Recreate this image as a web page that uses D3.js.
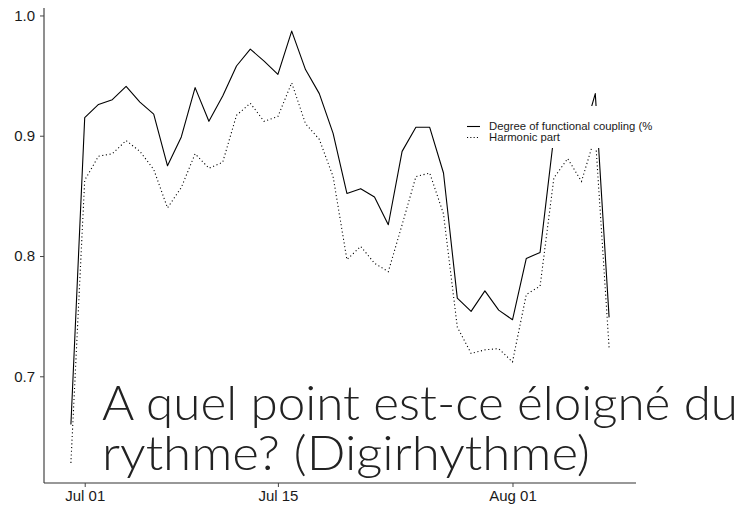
<!DOCTYPE html>
<html>
<head>
<meta charset="utf-8">
<script src="https://cdn.jsdelivr.net/npm/d3@7"></script>
<style>
  body { margin: 0; background: #fff; }
  svg { display: block; }
</style>
</head>
<body>
<script>
// daily values
var dates = [
  "2021-06-30", "2021-07-01", "2021-07-02", "2021-07-03", "2021-07-04",
  "2021-07-05", "2021-07-06", "2021-07-07", "2021-07-08", "2021-07-09",
  "2021-07-10", "2021-07-11", "2021-07-12", "2021-07-13", "2021-07-14",
  "2021-07-15", "2021-07-16", "2021-07-17", "2021-07-18", "2021-07-19",
  "2021-07-20", "2021-07-21", "2021-07-22", "2021-07-23", "2021-07-24",
  "2021-07-25", "2021-07-26", "2021-07-27", "2021-07-28", "2021-07-29",
  "2021-07-30", "2021-07-31", "2021-08-01", "2021-08-02", "2021-08-03",
  "2021-08-04", "2021-08-05", "2021-08-06", "2021-08-07", "2021-08-08"
];

var coupling = [
  0.660, 0.915, 0.926, 0.930, 0.941, 0.928, 0.918, 0.875, 0.899, 0.940,
  0.912, 0.933, 0.958, 0.972, 0.962, 0.951, 0.987, 0.955, 0.935, 0.902,
  0.852, 0.856, 0.849, 0.826, 0.887, 0.907, 0.907, 0.869, 0.765, 0.754,
  0.771, 0.755, 0.747, 0.798, 0.803, 0.900, 0.915, 0.895, 0.935, 0.749
];

var harmonic = [
  0.628, 0.863, 0.883, 0.885, 0.896, 0.887, 0.872, 0.840, 0.857, 0.885,
  0.873, 0.878, 0.917, 0.927, 0.912, 0.916, 0.944, 0.910, 0.897, 0.866,
  0.797, 0.808, 0.794, 0.787, 0.826, 0.866, 0.869, 0.835, 0.741, 0.719,
  0.722, 0.723, 0.712, 0.768, 0.775, 0.865, 0.881, 0.862, 0.900, 0.724
];

var yTicks = [0.7, 0.8, 0.9, 1.0];
var xTicks = ["2021-07-01", "2021-07-15", "2021-08-01"];
var seriesNames = ["Degree of functional coupling (%", "Harmonic part"];
var titleLines = ["A quel point est-ce éloigné du", "rythme? (Digirhythme)"];

var width = 746,
    height = 508;

var parse = d3.timeParse("%Y-%m-%d");
var days = dates.map(parse);

// ggplot-like 5% expansion on x
var ext = d3.extent(days);
var pad = (ext[1] - ext[0]) * 0.05;
var x = d3.scaleTime()
    .domain([new Date(+ext[0] - pad), new Date(+ext[1] + pad)])
    .range([44, 636]);

var y = d3.scaleLinear()
    .domain([0.6113, 1.0062])
    .range([483, 8]);

var svg = d3.select("body").append("svg")
    .attr("width", width)
    .attr("height", height);

// lines
var line = d3.line()
    .x(function(d, i) { return x(days[i]); })
    .y(function(d) { return y(d); });

svg.append("path")
    .datum(coupling)
    .attr("d", line)
    .attr("fill", "none")
    .attr("stroke", "#000")
    .attr("stroke-width", 1.1)
    .attr("stroke-linejoin", "round");

svg.append("path")
    .datum(harmonic)
    .attr("d", line)
    .attr("fill", "none")
    .attr("stroke", "#000")
    .attr("stroke-width", 1.1)
    .attr("stroke-dasharray", "1.1,2.6");

// axes
var yAxis = svg.append("g")
    .attr("transform", "translate(44,0)")
    .call(d3.axisLeft(y)
      .tickValues(yTicks)
      .tickSize(4)
      .tickPadding(5)
      .tickFormat(d3.format(".1f")));

var xAxis = svg.append("g")
    .attr("transform", "translate(0,483)")
    .call(d3.axisBottom(x)
      .tickValues(xTicks.map(parse))
      .tickSize(4)
      .tickPadding(3)
      .tickFormat(d3.timeFormat("%b %d")));

[yAxis, xAxis].forEach(function(g) {
  g.select(".domain").attr("stroke", "#333").attr("stroke-width", 1.1);
  g.selectAll(".tick line").attr("stroke", "#444");
  g.selectAll(".tick text")
    .attr("fill", "#1a1a1a")
    .style("font-family", "'Liberation Sans', Arial, sans-serif")
    .style("font-size", "15px");
});
yAxis.select(".domain").attr("d", "M0," + y.range()[1] + "V" + y.range()[0]);
xAxis.select(".domain").attr("d", "M" + x.range()[0] + ",0H" + x.range()[1]);

// legend, white box over the lines
var legend = svg.append("g").attr("transform", "translate(460,106)");
legend.append("rect")
    .attr("width", 205)
    .attr("height", 42)
    .attr("fill", "#fff");

var rows = legend.selectAll(".row")
    .data(seriesNames)
  .enter().append("g")
    .attr("transform", function(d, i) { return "translate(0," + (20.5 + i * 11) + ")"; });

rows.append("line")
    .attr("x1", 7).attr("x2", 20)
    .attr("stroke", "#000")
    .attr("stroke-width", 1.1)
    .attr("stroke-dasharray", function(d, i) { return i == 1 ? "1.1,2.2" : null; });

rows.append("text")
    .attr("x", 29)
    .attr("dy", "0.35em")
    .attr("fill", "#1a1a1a")
    .style("font-family", "'Liberation Sans', Arial, sans-serif")
    .style("font-size", "11.3px")
    .text(function(d) { return d; });

// big overlaid title
var lineWidths = [636, 488];
svg.selectAll(".title")
    .data(titleLines)
  .enter().append("text")
    .attr("class", "title")
    .attr("x", 102)
    .attr("y", function(d, i) { return 420 + i * 50; })
    .attr("textLength", function(d, i) { return lineWidths[i]; })
    .attr("lengthAdjust", "spacingAndGlyphs")
    .attr("fill", "#222")
    .style("font-family", "Lato, 'Open Sans', sans-serif")
    .style("font-weight", 300)
    .style("font-size", "48px")
    .text(function(d) { return d; });
</script>
</body>
</html>
